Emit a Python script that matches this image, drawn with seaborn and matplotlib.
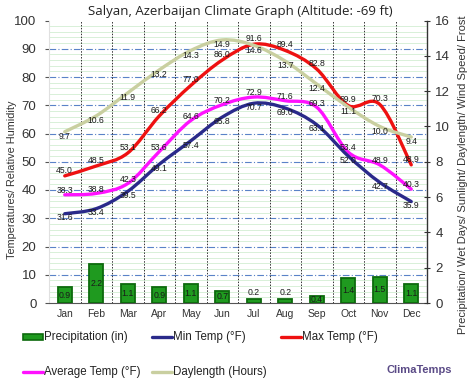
import numpy as np
import matplotlib
matplotlib.use("Agg")
import matplotlib.pyplot as plt
from matplotlib.path import Path
from matplotlib.patches import PathPatch, Rectangle
from matplotlib.lines import Line2D
import seaborn as sns
import pandas as pd

months = ["Jan", "Feb", "Mar", "Apr", "May", "Jun", "Jul", "Aug", "Sep", "Oct", "Nov", "Dec"]
precip = [0.9, 2.2, 1.1, 0.9, 1.1, 0.7, 0.2, 0.2, 0.4, 1.4, 1.5, 1.1]
min_temp = [31.6, 33.4, 39.5, 49.1, 57.4, 65.8, 70.7, 69.0, 63.1, 52.0, 42.7, 35.9]
max_temp = [45.0, 48.5, 53.1, 66.2, 77.0, 86.0, 91.6, 89.4, 82.8, 69.9, 70.3, 48.9]
avg_temp = [38.3, 38.8, 42.3, 53.6, 64.6, 70.2, 72.9, 71.6, 69.3, 53.4, 48.9, 40.3]
daylength = [9.7, 10.6, 11.9, 13.2, 14.3, 14.9, 14.6, 13.7, 12.4, 11.1, 10.0, 9.4]

title = "Salyan, Azerbaijan Climate Graph (Altitude: -69 ft)"

sns.set_style("white")
plt.rcParams["font.family"] = ["Liberation Sans", "DejaVu Sans"]

W, H = 474, 389
fig = plt.figure(figsize=(W / 100, H / 100), dpi=100)
L, R, T, B = 49, 427, 20.5, 303
ax = fig.add_axes([L / W, 1 - B / H, (R - L) / W, (B - T) / H])
ax2 = ax.twinx()

x = np.arange(len(months))
ax.set_xlim(-0.5, 11.5)
ax.set_ylim(0, 100)
ax2.set_ylim(0, 16)

# grid
for v in np.arange(2, 100, 2):
    if v % 10 == 0:
        continue
    ax.axhline(v, color="#d8f0d8", lw=0.7, zorder=0)
for v in np.arange(10, 100, 10):
    ax.axhline(v, color="#5a82c8", lw=0.8, ls=(0, (6, 2, 1, 2)), zorder=0.5)
for k in range(11):
    ax.axvline(k + 0.5, color="#333333", lw=0.7, ls=(0, (1.5, 1.5)), zorder=0.5)

# precipitation bars
df = pd.DataFrame({"month": months, "precip": precip})
sns.barplot(data=df, x="month", y="precip", ax=ax2, color="#1f9a1f", width=0.46,
            edgecolor="#0d6a0d", linewidth=1.3, saturation=1, zorder=2)
for xi, p in zip(x, precip):
    if p >= 0.35:
        ax2.text(xi, p / 2, f"{p:.1f}", ha="center", va="center", fontsize=6.3,
                 color="#1a1a1a", zorder=6)
    else:
        ax2.text(xi, p + 0.12, f"{p:.1f}", ha="center", va="bottom", fontsize=6.3,
                 color="#1a1a1a", zorder=6)


def smooth_path(xs, ys):
    pts = np.column_stack([xs, ys]).astype(float)
    n = len(pts)
    verts = [pts[0]]
    codes = [Path.MOVETO]
    for i in range(n - 1):
        p0 = pts[i - 1] if i > 0 else pts[i]
        p1 = pts[i]
        p2 = pts[i + 1]
        p3 = pts[i + 2] if i + 2 < n else pts[i + 1]
        c1 = p1 + (p2 - p0) / 6.0
        c2 = p2 - (p3 - p1) / 6.0
        verts += [c1, c2, p2]
        codes += [Path.CURVE4] * 3
    return Path(verts, codes)


# (axis, values, colour, zorder, label vertical offset in points)
series = [
    (ax2, daylength, "#c9cfa0", 3, -3.5),
    (ax, max_temp, "#ee1111", 4, 4),
    (ax, avg_temp, "#ff11ff", 4, 3),
    (ax, min_temp, "#2a2a8a", 4, -3),
]
for a, ys, col, z, dy in series:
    a.add_patch(PathPatch(smooth_path(x, ys), fill=False, edgecolor=col, lw=2.4,
                          capstyle="round", zorder=z))
    for xi, v in zip(x, ys):
        a.annotate(f"{v:.1f}", (xi, v), xytext=(0, dy), textcoords="offset points",
                   ha="center", va="center", fontsize=6.2, color="#1a1a1a", zorder=7)

# axes styling
ax.set_xticks(x)
ax.set_xticklabels(months, fontsize=7.5, color="#333333")
ax.tick_params(axis="x", length=0, pad=4)
ax.set_yticks(np.arange(0, 101, 10))
ax.tick_params(axis="y", labelsize=9.5, labelcolor="#333333", length=3, color="#555555", pad=6)
ax2.set_yticks(np.arange(0, 17, 2))
ax2.tick_params(axis="y", labelsize=9.5, labelcolor="#333333", length=4, color="#333333",
                direction="inout", pad=4)
ax2.set_ylabel("")
ax2.set_xlabel("")
ax.set_xlabel("")
ax.set_ylabel("")
for s in ["top"]:
    ax.spines[s].set_visible(False)
    ax2.spines[s].set_visible(False)
ax.spines["left"].set_color("#e0e0e0")
ax2.spines["left"].set_visible(False)
ax.spines["right"].set_visible(False)
ax2.spines["right"].set_color("#333333")
ax2.spines["right"].set_linewidth(1)
ax.spines["bottom"].set_color("#555555")
ax2.spines["bottom"].set_visible(False)
ax2.patch.set_visible(False)

fig.text(12 / W, 1 - 180 / H, "Temperatures/ Relative Humidity", rotation=90,
         ha="center", va="center", fontsize=7.8, color="#333333")
fig.text(463 / W, 1 - 175 / H, "Precipitation/ Wet Days/ Sunlight/ Daylength/ Wind Speed/ Frost",
         rotation=90, ha="center", va="center", fontsize=8, color="#333333")

fig.text(240 / W, 1 - 11 / H, title, ha="center", va="center", fontsize=9.5,
         color="#222222", family=["Open Sans", "DejaVu Sans"])

# legend (manual)
def fx(px):
    return px / W


def fy(py):
    return 1 - py / H


def leg_line(x0, y0, col, label):
    fig.add_artist(Line2D([fx(x0), fx(x0 + 20)], [fy(y0), fy(y0)], color=col, lw=2.4,
                          transform=fig.transFigure))
    fig.text(fx(x0 + 21), fy(y0), label, ha="left", va="center", fontsize=8.3, color="#222222")


fig.add_artist(Rectangle((fx(23), fy(340)), 20 / W, 6 / H, transform=fig.transFigure,
                         facecolor="#1f9a1f", edgecolor="#0d6a0d", lw=1.2))
fig.text(fx(44), fy(337), "Precipitation (in)", ha="left", va="center", fontsize=8.3, color="#222222")
leg_line(152, 337, "#2a2a8a", "Min Temp (°F)")
leg_line(281, 337, "#ee1111", "Max Temp (°F)")
leg_line(23, 372, "#ff11ff", "Average Temp (°F)")
leg_line(152, 372, "#c9cfa0", "Daylength (Hours)")
fig.text(fx(452), fy(370), "ClimaTemps", ha="right", va="center", fontsize=8,
         fontweight="bold", color="#5a4a86")

fig.savefig("out.png", dpi=100)
